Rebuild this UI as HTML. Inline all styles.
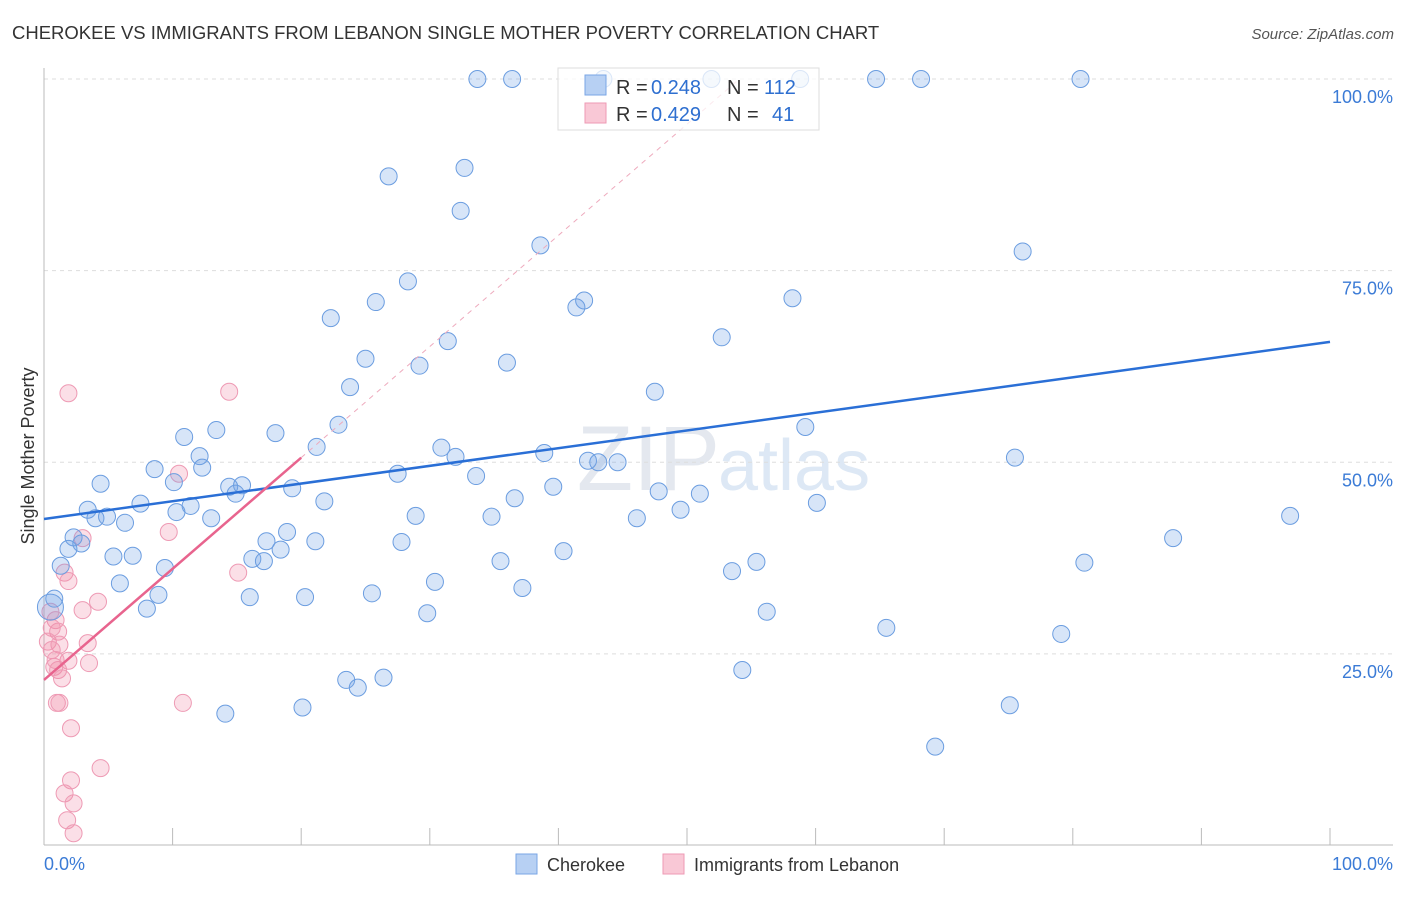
<!DOCTYPE html>
<html><head><meta charset="utf-8"><style>
body{margin:0;background:#fff;font-family:"Liberation Sans",sans-serif}
svg text{font-family:"Liberation Sans",sans-serif}
</style></head><body>
<svg id="chart" width="1406" height="892" viewBox="0 0 1406 892">
<text x="12" y="39" font-size="18.5" fill="#333">CHEROKEE VS IMMIGRANTS FROM LEBANON SINGLE MOTHER POVERTY CORRELATION CHART</text>
<text x="1394" y="39" font-size="15" fill="#555" text-anchor="end" font-style="italic">Source: ZipAtlas.com</text>
<text x="720" y="490" font-size="92" fill="#e4e8ef" text-anchor="end" font-family="Liberation Serif">ZIP</text>
<text x="718" y="490" font-size="72" fill="#dde8f5">atlas</text>
<g id="grid"></g>
<g id="axes"></g>
<g id="marks"></g>
<text transform="translate(34,456) rotate(-90)" font-size="18" fill="#333" text-anchor="middle">Single Mother Poverty</text>
<g>
<rect x="558" y="68" width="261" height="62" fill="rgba(255,255,255,0.75)" stroke="#ddd"/>
<rect x="585" y="75" width="21" height="20" fill="#b7d0f3" stroke="#7aa6e6"/>
<rect x="585" y="103" width="21" height="20" fill="#f9c8d6" stroke="#ee9ab4"/>
<text y="94" font-size="20" fill="#333"><tspan x="616">R =</tspan><tspan x="651" fill="#2e6fd0">0.248</tspan><tspan x="727">N =</tspan><tspan x="764" fill="#2e6fd0">112</tspan></text>
<text y="121" font-size="20" fill="#333"><tspan x="616">R =</tspan><tspan x="651" fill="#2e6fd0">0.429</tspan><tspan x="727">N =</tspan><tspan x="772" fill="#2e6fd0">41</tspan></text>
</g>
<g>
<rect x="516" y="854" width="21" height="20" fill="#b7d0f3" stroke="#7aa6e6"/>
<text x="547" y="871" font-size="18" fill="#333">Cherokee</text>
<rect x="663" y="854" width="21" height="20" fill="#f9c8d6" stroke="#ee9ab4"/>
<text x="694" y="871" font-size="18" fill="#333">Immigrants from Lebanon</text>
</g>
</svg>
<script>
const yTicks=[25,50,75,100];
const xTickLabels=["0.0%","100.0%"];
const blueX=[33.7,36.4,43.5,51.9,58.8,64.7,68.2,80.6,26.8,32.7,32.4,38.6,76.1,28.3,25.8,42.0,41.4,58.2,22.3,31.4,52.7,25.0,29.2,36.0,23.8,47.5,22.9,59.2,10.9,13.4,18.0,21.2,30.9,32.0,38.9,75.5,12.1,8.6,12.3,42.3,43.1,44.6,27.5,33.6,4.4,10.1,14.4,15.4,19.3,14.9,39.6,47.8,51.0,36.6,21.8,7.5,11.4,3.4,10.3,60.1,49.5,4.0,4.9,6.3,13.0,28.9,34.8,46.1,96.9,2.3,2.9,18.9,17.3,21.1,27.8,1.9,5.4,6.9,18.4,16.2,17.1,40.4,35.5,87.8,55.4,80.9,53.5,1.3,9.4,5.9,30.4,37.2,8.9,25.5,16.0,20.3,0.8,8.0,56.2,29.8,65.5,79.1,23.5,26.4,24.4,54.3,14.1,20.1,75.1,69.3,0.5];
const blueY=[100,100,100,100,100,100,100,100,87.3,88.4,82.8,78.3,77.5,73.6,70.9,71.1,70.2,71.4,68.8,65.8,66.3,63.5,62.6,63.0,59.8,59.2,54.9,54.6,53.3,54.2,53.8,52.0,51.9,50.7,51.2,50.6,50.8,49.1,49.3,50.2,50.0,50.0,48.5,48.2,47.2,47.4,46.8,47.0,46.6,45.9,46.8,46.2,45.9,45.3,44.9,44.6,44.3,43.8,43.5,44.7,43.8,42.7,42.9,42.1,42.7,43.0,42.9,42.7,43.0,40.2,39.4,40.9,39.7,39.7,39.6,38.7,37.7,37.8,38.6,37.4,37.1,38.4,37.1,40.1,37.0,36.9,35.8,36.5,36.2,34.2,34.4,33.6,32.7,32.9,32.4,32.4,32.2,30.9,30.5,30.3,28.4,27.6,21.6,21.9,20.6,22.9,17.2,18.0,18.3,12.9,31.1];
const pinkX=[1.9,14.4,10.5,3.0,9.7,1.6,1.9,15.1,4.2,3.0,0.9,1.1,0.6,3.4,0.3,1.2,0.6,1.9,3.5,0.8,1.1,1.4,1.0,1.2,10.8,2.1,4.4,2.1,1.6,2.3,1.8,2.3,0.5,0.9];
const pinkY=[59.0,59.2,48.5,40.1,40.9,35.6,34.5,35.6,31.8,30.7,29.4,27.9,28.4,26.4,26.6,26.2,25.5,24.1,23.8,23.3,22.9,21.8,18.6,18.6,18.6,15.3,10.1,8.5,6.8,5.5,3.3,1.6,30.5,24.2];
const blueTrend=[42.6,65.7]; // y at x=0, x=100
const pinkTrend=[21.6,1.45]; // intercept, slope per %
const NS='http://www.w3.org/2000/svg';
const X0=44,X1=1330,Y0=845.5,Y100=79;
const sx=v=>X0+(X1-X0)*v/100, sy=v=>Y0+(Y100-Y0)*v/100;
function mk(tag,attrs,parent){const e=document.createElementNS(NS,tag);for(const k in attrs)e.setAttribute(k,attrs[k]);parent.appendChild(e);return e;}
const grid=document.getElementById('grid'),axes=document.getElementById('axes'),marks=document.getElementById('marks');
yTicks.forEach(t=>{
 const l=mk('line',{x1:44,x2:1393,y1:sy(t),y2:sy(t),stroke:'#ddd','stroke-dasharray':'4,4'},grid);
 
 
 const tx=mk('text',{x:1393,y:sy(t)+24,'font-size':18,fill:'#3b7bd6','text-anchor':'end'},axes);
 tx.textContent=t.toFixed(1)+'%';
 
 
});
const ax=mk('line',{x1:44,x2:1393,y1:845,y2:845,stroke:'#bbb'},axes);


const ay=mk('line',{x1:44,x2:44,y1:68,y2:845,stroke:'#bbb'},axes);


for(let i=0;i<=10;i++){
 const t=mk('line',{x1:sx(i*10),x2:sx(i*10),y1:828,y2:845,stroke:'#bbb'},axes);
 
 
}
[[0,'start',44],[1,'end',1393]].forEach(([i,a,x])=>{
 const t=mk('text',{x:x,y:870,'font-size':18,fill:'#3b7bd6','text-anchor':a},axes);
 t.textContent=xTickLabels[i];
 
 
});
pinkX.forEach((x,i)=>{
 const c=mk('circle',{cx:sx(x),cy:sy(pinkY[i]),r:8.5,fill:'rgba(242,140,170,0.28)',stroke:'#ee9ab4','stroke-width':1},marks);
 
 
});
blueX.forEach((x,i)=>{
 const c=mk('circle',{cx:sx(x),cy:sy(blueY[i]),r:i===blueX.length-1?13:8.5,fill:'rgba(110,160,230,0.28)',stroke:'#6b9de0','stroke-width':1},marks);
 
 
});
const bl=mk('line',{x1:sx(0),y1:sy(blueTrend[0]),x2:sx(100),y2:sy(blueTrend[1]),stroke:'#2a6fd6','stroke-width':2.5},marks);


const pEnd=(100-pinkTrend[0])/pinkTrend[1];
const pd=mk('line',{x1:sx(20),y1:sy(pinkTrend[0]+pinkTrend[1]*20),x2:sx(pEnd),y2:sy(100),stroke:'#eeaabd','stroke-width':1,'stroke-dasharray':'5,5'},marks);


const pl=mk('line',{x1:sx(0),y1:sy(pinkTrend[0]),x2:sx(20),y2:sy(pinkTrend[0]+pinkTrend[1]*20),stroke:'#e8648e','stroke-width':2.5},marks);


</script>
</body></html>
